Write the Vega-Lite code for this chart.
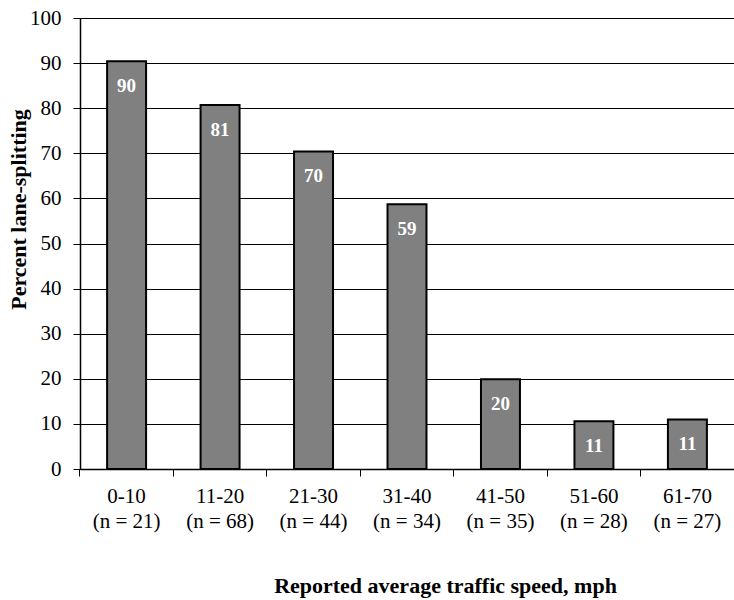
{
  "$schema": "https://vega.github.io/schema/vega-lite/v6.json",
  "width": 654,
  "height": 451,
  "autosize": {"type": "none"},
  "padding": {"left": 80, "top": 18, "right": 0, "bottom": 131},
  "background": "white",
  "config": {"view": {"stroke": null}, "font": "Liberation Serif"},
  "data": {
    "values": [
      {"speed": "0-10 (n = 21)", "pct": 90.4, "label": "90"},
      {"speed": "11-20 (n = 68)", "pct": 80.7, "label": "81"},
      {"speed": "21-30 (n = 44)", "pct": 70.4, "label": "70"},
      {"speed": "31-40 (n = 34)", "pct": 58.7, "label": "59"},
      {"speed": "41-50 (n = 35)", "pct": 19.9, "label": "20"},
      {"speed": "51-60 (n = 28)", "pct": 10.6, "label": "11"},
      {"speed": "61-70 (n = 27)", "pct": 11.0, "label": "11"}
    ]
  },
  "encoding": {
    "x": {
      "field": "speed",
      "type": "nominal",
      "sort": null,
      "scale": {"paddingInner": 0.583, "paddingOuter": 0.29},
      "axis": {
        "title": "Reported average traffic speed, mph",
        "titleFont": "Liberation Serif",
        "titleFontSize": 22,
        "titleFontWeight": "bold",
        "titleColor": "black",
        "titleX": 365,
        "titleY": 116,
        "titleBaseline": "middle",
        "titleAlign": "center",
        "labelAngle": 0,
        "labelFont": "Liberation Serif",
        "labelFontSize": 21,
        "labelColor": "black",
        "labelLineHeight": 25,
        "labelPadding": 9,
        "labelBaseline": "top",
        "labelExpr": "[slice(datum.value, 0, indexof(datum.value, ' (')), slice(datum.value, indexof(datum.value, ' (') + 1)]",
        "bandPosition": -0.699,
        "labelFlush": false,
        "labelOverlap": false,
        "tickSize": 7,
        "tickColor": "black",
        "tickWidth": 1,
        "domainColor": "black",
        "domainWidth": 1.5,
        "grid": false
      }
    },
    "y": {
      "field": "pct",
      "type": "quantitative",
      "scale": {"domain": [0, 100], "nice": false},
      "axis": {
        "title": "Percent lane-splitting",
        "titleFont": "Liberation Serif",
        "titleFontSize": 22,
        "titleFontWeight": "bold",
        "titleColor": "black",
        "titleX": -62,
        "titleY": 191,
        "titleBaseline": "middle",
        "titleAlign": "center",
        "titleAngle": -90,
        "values": [0, 10, 20, 30, 40, 50, 60, 70, 80, 90, 100],
        "labelFont": "Liberation Serif",
        "labelFontSize": 21,
        "labelColor": "black",
        "labelPadding": 12,
        "tickSize": 7,
        "tickColor": "black",
        "domainColor": "black",
        "domainWidth": 1.5,
        "grid": true,
        "gridColor": "black",
        "gridWidth": 1,
        "gridOpacity": 1
      }
    }
  },
  "layer": [
    {
      "mark": {"type": "bar", "color": "#808080", "stroke": "black", "strokeWidth": 2}
    },
    {
      "mark": {
        "type": "text",
        "color": "white",
        "font": "Liberation Serif",
        "fontSize": 19,
        "fontWeight": "bold",
        "baseline": "middle",
        "dy": 25
      },
      "encoding": {"text": {"field": "label"}}
    }
  ]
}
